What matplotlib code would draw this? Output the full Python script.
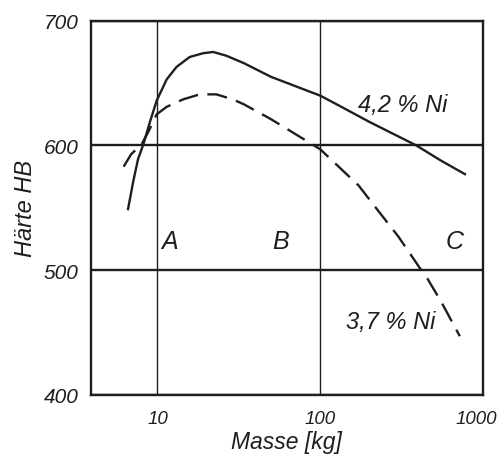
import matplotlib.pyplot as plt
from matplotlib.ticker import NullLocator
from matplotlib.transforms import ScaledTranslation

# Haerte HB vs Masse (kg)
ni42_masse = [6.6, 7.1, 7.6, 8.2, 9.0, 9.9, 11.4, 13.1, 15.8, 19.1, 22.0, 26.5, 34, 50, 100,
              135, 200, 390, 550, 775]
ni42_hb = [549, 571, 589, 601, 619, 636, 653, 663, 671, 674, 675, 672, 666, 655, 640,
           631, 619, 600, 588, 577]

ni37_masse = [6.2, 6.9, 8.0, 8.8, 9.4, 9.9, 11.4, 14.4, 18.2, 23, 29, 34, 50, 100,
              148, 172, 226, 302, 408, 457, 552, 721]
ni37_hb = [583, 593, 601, 611, 619, 625, 631, 637, 641, 641, 637, 633, 621, 597,
           576, 568, 548, 527, 502, 493, 475, 447]

x_ticks = [10, 100, 1000]
y_ticks = [400, 500, 600, 700]
zones = ["A", "B", "C"]
zone_x = [11.9, 57, 670]

ink = "#1e1e22"
tfont = dict(family="Liberation Sans", style="italic", color=ink)

fig = plt.figure(figsize=(5.02, 4.64), dpi=100)
ax = fig.add_axes([0.181, 0.147, 0.781, 0.806])

ax.plot(ni42_masse, ni42_hb, color=ink, lw=1.7, solid_joinstyle="round")
dashed, = ax.plot(ni37_masse, ni37_hb, color=ink, lw=1.7)
dashed.set_dashes((8.5, 4))

ax.set_xscale("log")
ax.set_xlim(3.9, 1000)
ax.set_ylim(400, 700)
ax.set_xticks(x_ticks)
ax.set_xticklabels([str(v) for v in x_ticks], **tfont, fontsize=13.5)
ax.set_yticks(y_ticks)
ax.set_yticklabels([str(v) for v in y_ticks], **tfont, fontsize=15)
ax.xaxis.set_minor_locator(NullLocator())
ax.tick_params(length=0, pad=9)
ax.tick_params(axis="x", pad=11)

# the last label sits a bit inside the figure edge, as in the original
last = ax.get_xticklabels()[-1]
last.set_transform(last.get_transform() + ScaledTranslation(-5 / 72, 0, fig.dpi_scale_trans))

ax.xaxis.grid(True, color=ink, lw=1.0)
ax.yaxis.grid(True, color=ink, lw=1.7)
for s in ax.spines.values():
    s.set_color(ink)
    s.set_linewidth(1.7)

ax.set_xlabel("Masse [kg]", **tfont, fontsize=16.5, labelpad=2)
ax.set_ylabel("Härte HB", **tfont, fontsize=17, labelpad=5)

for name, xv in zip(zones, zone_x):
    ax.text(xv, 523, name, ha="center", va="center", **tfont, fontsize=18)

ax.text(320, 633, "4,2 % Ni", ha="center", va="center", **tfont, fontsize=17)
ax.text(272, 459, "3,7 % Ni", ha="center", va="center", **tfont, fontsize=17)

fig.savefig("out.png", dpi=100)
